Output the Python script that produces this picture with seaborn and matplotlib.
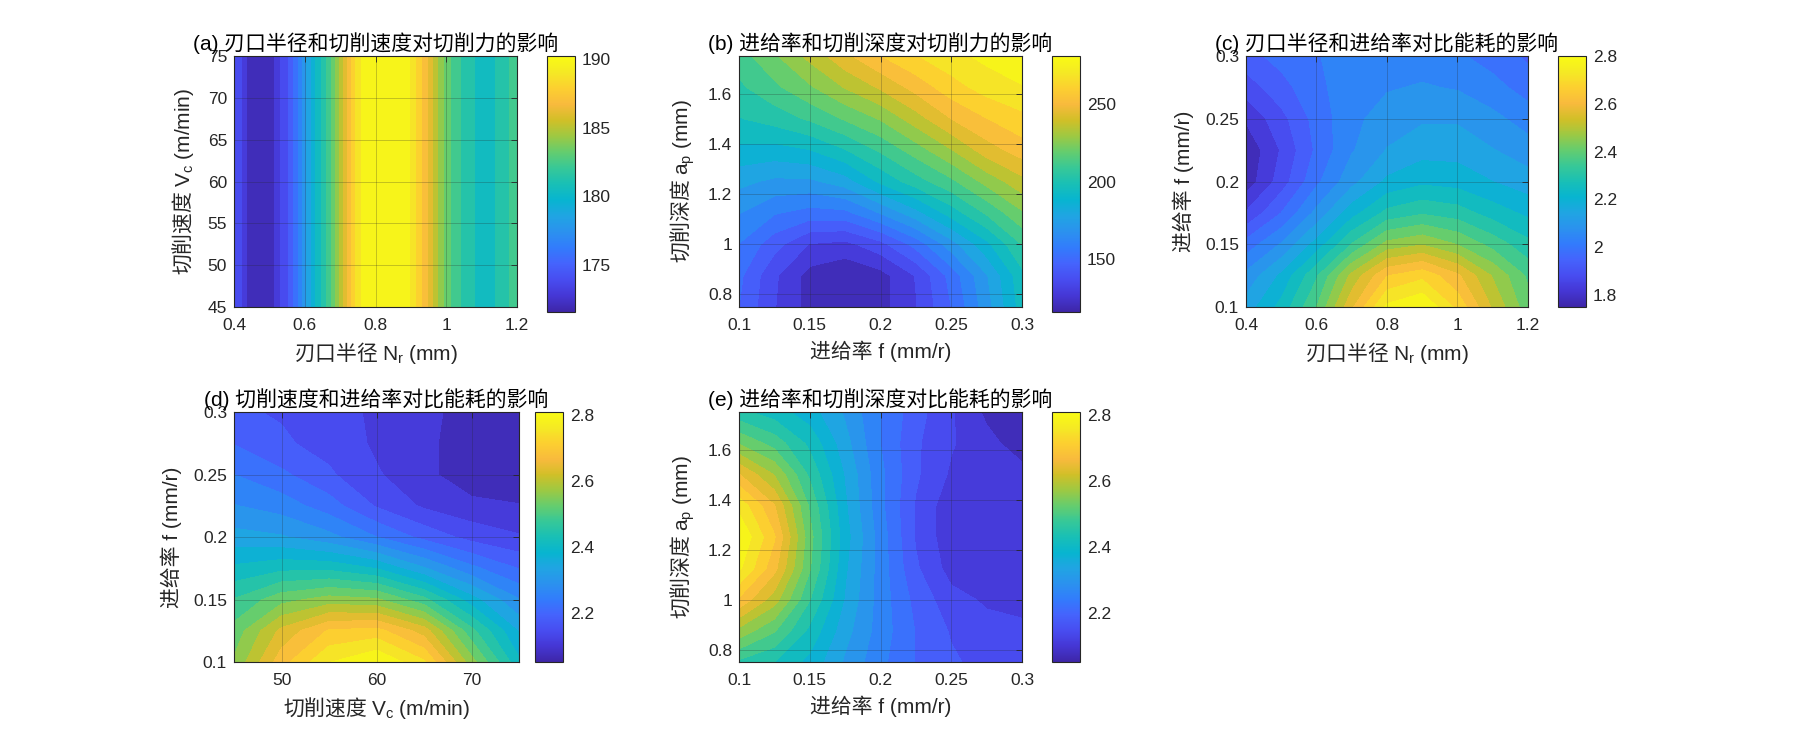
import numpy as np
import matplotlib
matplotlib.use("Agg")
import matplotlib.pyplot as plt
import seaborn as sns
from matplotlib.colors import Normalize
from matplotlib.cm import ScalarMappable
from matplotlib.ticker import FuncFormatter

# ---------------- data ----------------
# (a) cutting force vs edge radius Nr (bands do not vary with Vc)
a_Nr = [0.40, 0.42, 0.44, 0.48, 0.51, 0.525, 0.55, 0.58, 0.60, 0.62, 0.64, 0.66,
        0.68, 0.70, 0.72, 0.74, 0.76, 0.80, 0.85, 0.89, 0.91, 0.94, 0.965, 0.99,
        1.02, 1.06, 1.10, 1.15, 1.20]
a_Vc = [45, 75]
a_force = [174.0, 173.6, 172.3, 171.9, 172.3, 173.2, 174.3, 176.2, 177.8, 179.3,
           180.6, 181.8, 183.2, 184.8, 186.6, 188.2, 189.3, 190.0, 190.2, 189.6,
           188.6, 187.0, 185.3, 183.8, 182.5, 181.2, 180.6, 181.0, 182.5]

# (b) cutting force vs feed f (columns) and depth ap (rows)
b_f = [0.1, 0.125, 0.15, 0.175, 0.2, 0.225, 0.25, 0.275, 0.3]
b_ap = [0.75, 0.875, 1.0, 1.125, 1.25, 1.375, 1.5, 1.625, 1.75]
b_force = [
    [149, 133, 121, 118, 121, 132, 149, 170, 194],
    [151, 134, 121, 117, 121, 133, 152, 173, 196],
    [157, 144, 132, 130, 138, 152, 170, 188, 207],
    [166, 158, 154, 155, 166, 179, 194, 208, 222],
    [176, 172, 172, 178, 192, 203, 213, 226, 237],
    [188, 187, 190, 198, 208, 219, 231, 244, 252],
    [198, 202, 208, 216, 224, 236, 248, 256, 262],
    [205, 213, 222, 232, 241, 251, 261, 268, 272],
    [211, 222, 234, 246, 256, 264, 270, 275, 280],
]

# (c) specific energy vs Nr (columns) and f (rows)
c_Nr = [0.4, 0.5, 0.6, 0.7, 0.8, 0.9, 1.0, 1.1, 1.2]
c_f = [0.1, 0.125, 0.15, 0.175, 0.2, 0.225, 0.25, 0.275, 0.3]
c_energy = [
    [2.14, 2.24, 2.38, 2.58, 2.76, 2.80, 2.68, 2.53, 2.40],
    [2.08, 2.18, 2.32, 2.50, 2.64, 2.68, 2.60, 2.48, 2.37],
    [1.98, 2.07, 2.19, 2.33, 2.45, 2.48, 2.43, 2.36, 2.29],
    [1.86, 1.96, 2.08, 2.20, 2.29, 2.32, 2.30, 2.25, 2.21],
    [1.77, 1.88, 2.00, 2.10, 2.18, 2.21, 2.20, 2.17, 2.14],
    [1.76, 1.86, 1.97, 2.06, 2.12, 2.15, 2.15, 2.12, 2.09],
    [1.81, 1.89, 1.98, 2.05, 2.09, 2.11, 2.11, 2.08, 2.04],
    [1.88, 1.94, 2.00, 2.04, 2.06, 2.07, 2.06, 2.03, 1.99],
    [1.94, 1.98, 2.01, 2.03, 2.04, 2.04, 2.02, 1.99, 1.95],
]

# (d) specific energy vs Vc (columns) and f (rows)
d_Vc = [45, 50, 55, 60, 65, 70, 75]
d_f = [0.1, 0.125, 0.15, 0.175, 0.2, 0.225, 0.25, 0.275, 0.3]
d_energy = [
    [2.55, 2.68, 2.77, 2.81, 2.74, 2.56, 2.40],
    [2.52, 2.63, 2.70, 2.71, 2.64, 2.48, 2.35],
    [2.47, 2.53, 2.56, 2.55, 2.48, 2.37, 2.28],
    [2.40, 2.42, 2.42, 2.39, 2.32, 2.25, 2.20],
    [2.33, 2.32, 2.29, 2.24, 2.19, 2.15, 2.13],
    [2.28, 2.26, 2.22, 2.16, 2.12, 2.10, 2.09],
    [2.24, 2.21, 2.17, 2.13, 2.10, 2.06, 2.06],
    [2.20, 2.17, 2.15, 2.12, 2.10, 2.06, 2.06],
    [2.17, 2.16, 2.14, 2.12, 2.10, 2.07, 2.07],
]

# (e) specific energy vs f (columns) and ap (rows)
e_f = [0.1, 0.125, 0.15, 0.175, 0.2, 0.225, 0.25, 0.275, 0.3]
e_ap = [0.75, 0.875, 1.0, 1.125, 1.25, 1.375, 1.5, 1.625, 1.75]
e_energy = [
    [2.46, 2.43, 2.38, 2.31, 2.25, 2.20, 2.17, 2.15, 2.14],
    [2.57, 2.51, 2.42, 2.33, 2.26, 2.20, 2.16, 2.14, 2.13],
    [2.69, 2.60, 2.47, 2.35, 2.26, 2.19, 2.14, 2.12, 2.12],
    [2.78, 2.67, 2.51, 2.36, 2.26, 2.17, 2.11, 2.10, 2.11],
    [2.81, 2.70, 2.52, 2.37, 2.26, 2.16, 2.10, 2.09, 2.10],
    [2.76, 2.66, 2.50, 2.36, 2.25, 2.16, 2.10, 2.10, 2.10],
    [2.66, 2.58, 2.46, 2.35, 2.25, 2.17, 2.12, 2.11, 2.10],
    [2.54, 2.49, 2.42, 2.33, 2.24, 2.17, 2.13, 2.10, 2.07],
    [2.44, 2.41, 2.37, 2.31, 2.24, 2.18, 2.13, 2.08, 2.05],
]

titles = ["(a) 刃口半径和切削速度对切削力的影响",
          "(b) 进给率和切削深度对切削力的影响",
          "(c) 刃口半径和进给率对比能耗的影响",
          "(d) 切削速度和进给率对比能耗的影响",
          "(e) 进给率和切削深度对比能耗的影响"]
lbl_Nr = "刃口半径 $\\mathrm{N_r\\ (mm)}$"
lbl_Vc = "切削速度 $\\mathrm{V_c\\ (m/min)}$"
lbl_ap = "切削深度 $\\mathrm{a_p\\ (mm)}$"
lbl_f = "进给率 f (mm/r)"

# colour scale limits shown on each colour bar
a_clim = (171.6, 190.2)
b_clim = (116.0, 281.0)
c_clim = (1.75, 2.80)
d_clim = (2.05, 2.81)
e_clim = (2.05, 2.81)

# ---------------- style ----------------
sns.set_style("white")
plt.rcParams["font.family"] = ["Liberation Sans", "Noto Sans CJK SC"]
plt.rcParams["mathtext.fontset"] = "custom"
plt.rcParams["mathtext.rm"] = "Liberation Sans"
plt.rcParams["mathtext.it"] = "Liberation Sans:italic"
plt.rcParams["axes.unicode_minus"] = False

parula_anchors = [
    (0.2422, 0.1504, 0.6603), (0.2706, 0.2147, 0.8364), (0.2813, 0.3006, 0.9414),
    (0.2699, 0.3892, 0.9906), (0.1963, 0.4847, 0.9892), (0.1687, 0.5703, 0.9359),
    (0.1248, 0.6459, 0.8883), (0.0297, 0.7082, 0.8163), (0.0964, 0.7500, 0.7120),
    (0.2161, 0.7843, 0.5923), (0.3909, 0.8029, 0.4354), (0.6174, 0.7876, 0.2612),
    (0.8203, 0.7498, 0.1535), (0.9728, 0.7298, 0.2394), (0.9892, 0.8136, 0.1885),
    (0.9597, 0.9135, 0.1423), (0.9769, 0.9839, 0.0805)]
cmap = sns.blend_palette(parula_anchors, n_colors=256, as_cmap=True)

TXT = "#262626"
W, H = 1800, 750
fig = plt.figure(figsize=(18, 7.5), dpi=100)


def rect(l, t, r, b):
    return [l / W, 1 - b / H, (r - l) / W, (b - t) / H]


fmt = FuncFormatter(lambda v, p: f"{v:g}")
CJK = ["Noto Sans CJK SC"]
MIX = ["Liberation Sans", "Noto Sans CJK SC"]


def panel(ax_r, cb_r, x, y, z, clim, xt, yt, cbt, xl, yl, title):
    ax = fig.add_axes(rect(*ax_r))
    cax = fig.add_axes(rect(*cb_r))
    X, Y = np.meshgrid(x, y)
    Z = np.asarray(z, dtype=float)
    lo, hi = clim
    levels = np.linspace(lo, hi, 21)
    levels[0] = min(lo, Z.min()) - 1e-6
    levels[-1] = max(hi, Z.max()) + 1e-6
    norm = Normalize(lo, hi)
    ax.contourf(X, Y, Z, levels=levels, cmap=cmap, norm=norm, antialiased=False)
    ax.set_xlim(x[0], x[-1])
    ax.set_ylim(y[0], y[-1])
    ax.set_xticks(xt)
    ax.set_yticks(yt)
    ax.xaxis.set_major_formatter(fmt)
    ax.yaxis.set_major_formatter(fmt)
    ax.grid(True, color="#262626", alpha=0.25, linewidth=0.7)
    ax.set_axisbelow(False)
    ax.tick_params(direction="in", length=4, width=0.6, top=True, right=True,
                   labelsize=12.5, colors=TXT, labelcolor=TXT)
    ax.tick_params(axis="x", pad=8)
    ax.tick_params(axis="y", pad=5)
    for s in ax.spines.values():
        s.set_linewidth(0.8)
        s.set_color(TXT)
    fx = CJK if "$" in xl else MIX
    fy = CJK if "$" in yl else MIX
    ax.set_xlabel(xl, fontsize=15, family=fx, color=TXT, labelpad=5)
    ax.set_ylabel(yl, fontsize=15, family=fy, color=TXT, labelpad=8)
    ax.set_title(title, fontsize=15, family=MIX, color="black", pad=4)
    cb = fig.colorbar(ScalarMappable(norm=norm, cmap=cmap), cax=cax, ticks=cbt)
    cb.ax.yaxis.set_major_formatter(fmt)
    cb.ax.tick_params(direction="in", length=3, width=0.6, labelsize=12.5,
                      colors=TXT, labelcolor=TXT, pad=5)
    cb.outline.set_linewidth(0.8)
    cb.outline.set_edgecolor(TXT)
    return ax


panel((234, 56, 517, 307), (547, 56, 575, 312), a_Nr, a_Vc, [a_force, a_force],
      a_clim, [0.4, 0.6, 0.8, 1.0, 1.2], [45, 50, 55, 60, 65, 70, 75],
      [175, 180, 185, 190], lbl_Nr, lbl_Vc, titles[0])
panel((739, 56, 1022, 307), (1052, 56, 1080, 312), b_f, b_ap, b_force,
      b_clim, [0.1, 0.15, 0.2, 0.25, 0.3], [0.8, 1.0, 1.2, 1.4, 1.6],
      [150, 200, 250], lbl_f, lbl_ap, titles[1])
panel((1246, 56, 1528, 307), (1558, 56, 1586, 307), c_Nr, c_f, c_energy,
      c_clim, [0.4, 0.6, 0.8, 1.0, 1.2], [0.1, 0.15, 0.2, 0.25, 0.3],
      [1.8, 2.0, 2.2, 2.4, 2.6, 2.8], lbl_Nr, lbl_f, titles[2])
panel((234, 412, 519, 662), (535, 412, 563, 662), d_Vc, d_f, d_energy,
      d_clim, [50, 60, 70], [0.1, 0.15, 0.2, 0.25, 0.3],
      [2.2, 2.4, 2.6, 2.8], lbl_Vc, lbl_f, titles[3])
panel((739, 412, 1022, 662), (1052, 412, 1080, 662), e_f, e_ap, e_energy,
      e_clim, [0.1, 0.15, 0.2, 0.25, 0.3], [0.8, 1.0, 1.2, 1.4, 1.6],
      [2.2, 2.4, 2.6, 2.8], lbl_f, lbl_ap, titles[4])

fig.savefig("out.png", dpi=100, facecolor="white")
